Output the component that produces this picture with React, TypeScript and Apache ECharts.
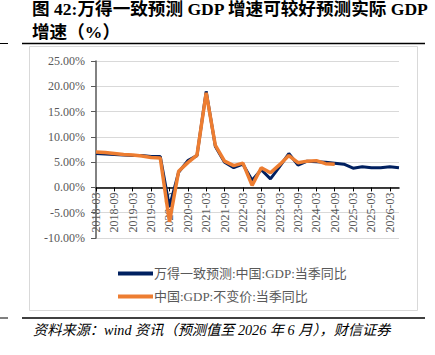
import React, { useEffect, useRef } from "react";
import * as echarts from "echarts";

const categories = [
  "2018-03", "2018-06", "2018-09", "2018-12",
  "2019-03", "2019-06", "2019-09", "2019-12",
  "2020-03", "2020-06", "2020-09", "2020-12",
  "2021-03", "2021-06", "2021-09", "2021-12",
  "2022-03", "2022-06", "2022-09", "2022-12",
  "2023-03", "2023-06", "2023-09", "2023-12",
  "2024-03", "2024-06", "2024-09", "2024-12",
  "2025-03", "2025-06", "2025-09", "2025-12",
  "2026-03", "2026-06",
];

const forecastName = "万得一致预测:中国:GDP:当季同比";
const forecastValues = [
  6.7, 6.6, 6.5, 6.4,
  6.3, 6.3, 6.1, 6.1,
  -3.8, 3.0, 5.3, 6.3,
  19.0, 8.1, 5.0, 3.9,
  4.6, 1.4, 3.5, 1.7,
  4.1, 6.7, 4.4, 5.2,
  5.1, 5.0, 4.8, 4.6,
  3.8, 4.1, 3.9, 3.9,
  4.1, 3.9,
];

const actualName = "中国:GDP:不变价:当季同比";
const actualValues: (number | null)[] = [
  7.0, 6.9, 6.7, 6.5,
  6.4, 6.2, 5.9, 5.8,
  -6.8, 3.2, 4.9, 6.4,
  18.7, 8.3, 5.2, 4.3,
  4.8, 0.4, 3.9, 2.9,
  4.5, 6.3, 4.9, 5.2,
  5.3, 4.7, 4.6, null,
  null, null, null, null,
  null, null,
];

const yMin = -10;
const yMax = 25;
const yStep = 5;

const titleLine1 = "图 42:万得一致预测 GDP 增速可较好预测实际 GDP";
const titleLine2 = "增速（%）";
const footerText = "资料来源：wind 资讯（预测值至 2026 年 6 月），财信证券";

const FONT = "'Liberation Serif', 'Noto Sans CJK SC', serif";

const GRID_TOP = 61;
const GRID_BOTTOM = 117;
const CHART_H = 355;

export default function App() {
  const ref = useRef<HTMLDivElement>(null);
  useEffect(() => {
    if (!ref.current) return;
    const chart = echarts.init(ref.current, null, { renderer: "svg" });
    const gridH = CHART_H - GRID_TOP - GRID_BOTTOM;
    const zeroOffset = -((0 - yMin) / (yMax - yMin)) * gridH;
    chart.setOption({
      animation: false,
      backgroundColor: "#ffffff",
      textStyle: { fontFamily: FONT },
      grid: { left: 96, right: 36, top: GRID_TOP, bottom: GRID_BOTTOM },
      legend: {
        orient: "vertical",
        left: 113,
        top: 262,
        itemGap: 10,
        itemWidth: 35,
        itemHeight: 4,
        icon: "rect",
        textStyle: {
          fontSize: 13,
          color: "#595959",
          fontFamily: FONT,
          padding: [0, 0, 0, -4],
        },
        data: [forecastName, actualName],
      },
      xAxis: {
        type: "category",
        data: categories,
        boundaryGap: false,
        offset: zeroOffset,
        axisLine: { onZero: false, lineStyle: { color: "#000000", width: 1.5 } },
        axisTick: { show: true, interval: 1, length: 4, lineStyle: { color: "#000000" } },
        axisLabel: {
          interval: 1,
          rotate: 90,
          margin: 5,
          color: "#595959",
          fontSize: 12,
          fontFamily: FONT,
        },
        splitLine: { show: false },
      },
      yAxis: {
        type: "value",
        min: yMin,
        max: yMax,
        interval: yStep,
        axisLine: { show: true, lineStyle: { color: "#595959", width: 1.5 } },
        axisTick: { show: true, length: 5, lineStyle: { color: "#595959" } },
        axisLabel: {
          margin: 11,
          color: "#595959",
          fontSize: 12,
          fontFamily: FONT,
          formatter: (v: number) => v.toFixed(2) + "%",
        },
        splitLine: { show: true, lineStyle: { color: "#d9d9d9", width: 1 } },
      },
      series: [
        {
          name: forecastName,
          type: "line",
          data: forecastValues,
          symbol: "none",
          lineStyle: { color: "#002060", width: 3 },
          itemStyle: { color: "#002060" },
          z: 2,
        },
        {
          name: actualName,
          type: "line",
          data: actualValues,
          symbol: "none",
          connectNulls: false,
          lineStyle: { color: "#ED7D31", width: 3.5 },
          itemStyle: { color: "#ED7D31" },
          z: 3,
        },
      ],
      graphic: [
        {
          type: "text",
          left: 32,
          top: 0,
          style: {
            text: titleLine1,
            font: "bold 17.6px " + FONT,
            fill: "#000000",
          },
        },
        {
          type: "text",
          left: 32,
          top: 23,
          style: {
            text: titleLine2,
            font: "bold 17.6px " + FONT,
            fill: "#000000",
          },
        },
        {
          type: "line",
          shape: { x1: 22, y1: 43.5, x2: 425, y2: 43.5 },
          style: { stroke: "#000000", lineWidth: 1.5 },
        },
        {
          type: "line",
          shape: { x1: 0, y1: 43.5, x2: 8, y2: 43.5 },
          style: { stroke: "#000000", lineWidth: 1 },
        },
        {
          type: "rect",
          shape: { x: 29.5, y: 46.5, width: 388, height: 264 },
          style: { fill: "none", stroke: "#d9d9d9", lineWidth: 1 },
          z: -1,
        },
        {
          type: "line",
          shape: { x1: 22, y1: 318, x2: 425, y2: 318 },
          style: { stroke: "#000000", lineWidth: 1.5 },
        },
        {
          type: "line",
          shape: { x1: 0, y1: 318, x2: 8, y2: 318 },
          style: { stroke: "#000000", lineWidth: 1 },
        },
        {
          type: "text",
          left: 33,
          top: 323,
          style: {
            text: footerText,
            font: "italic 14.2px " + FONT,
            fill: "#000000",
          },
        },
      ],
    });
    return () => chart.dispose();
  }, []);
  return (
    <div
      ref={ref}
      style={{ position: "fixed", left: 0, top: 0, width: 435, height: 355 }}
    />
  );
}
